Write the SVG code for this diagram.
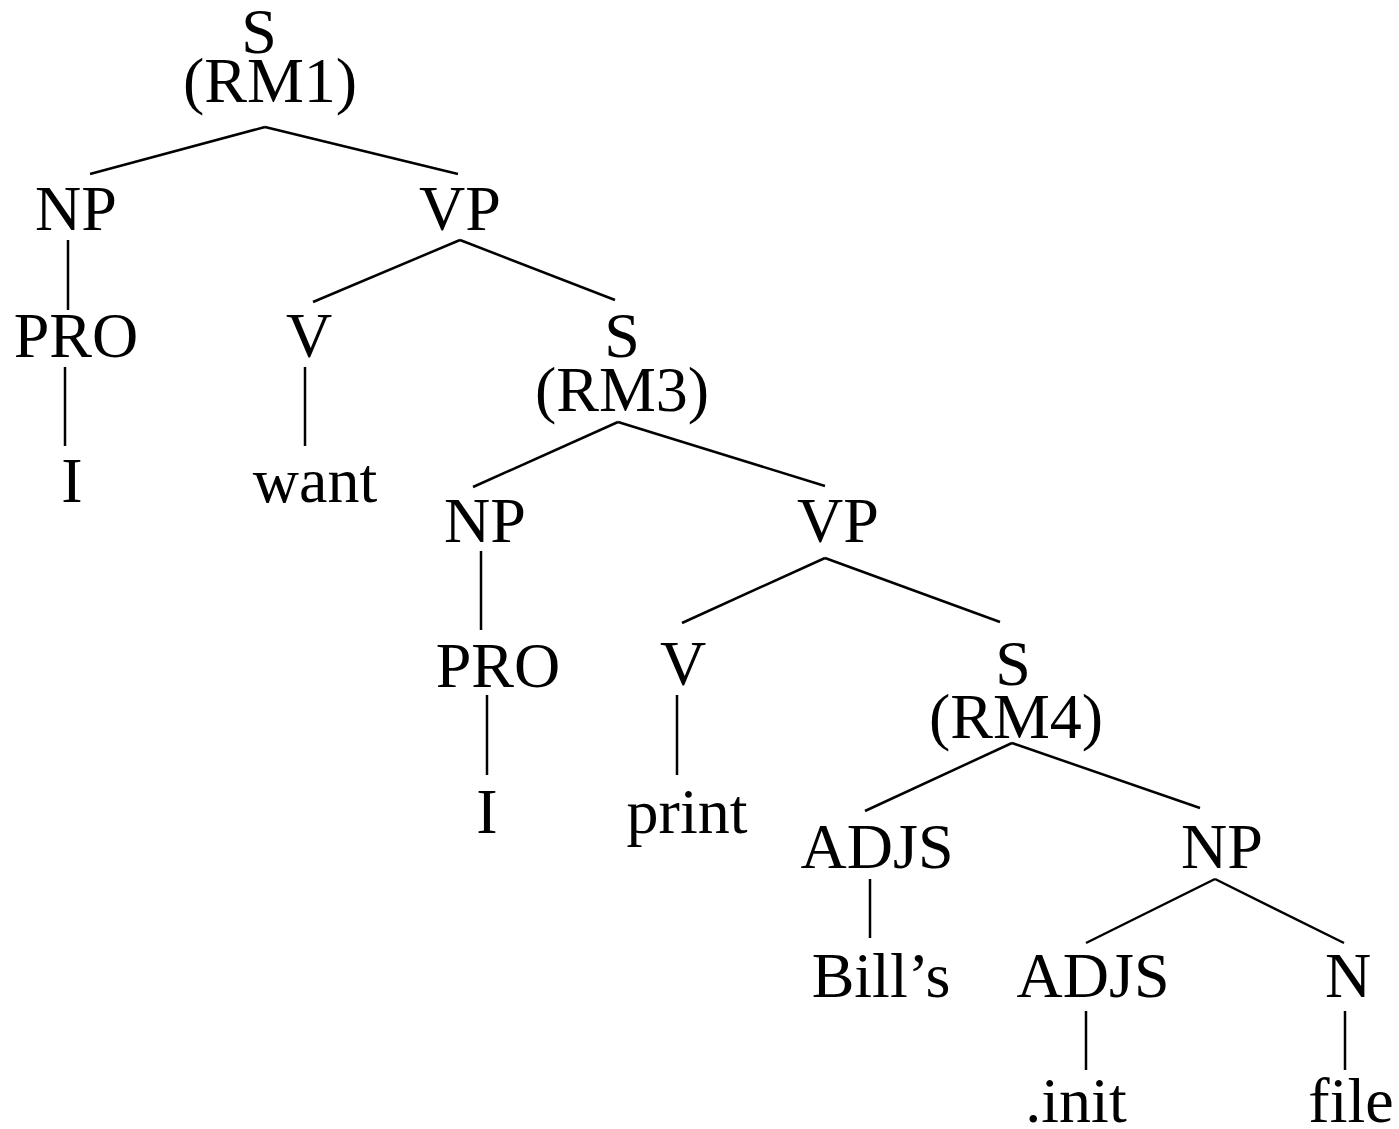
<svg xmlns="http://www.w3.org/2000/svg" width="1399" height="1129" viewBox="0 0 1399 1129">
<style>
text{font-family:"Liberation Serif","Times New Roman",serif;font-size:64px;fill:#000;text-anchor:middle}
line{stroke:#000;stroke-width:2.5;stroke-linecap:butt}
</style>
<rect width="1399" height="1129" fill="#fff"/>
<g id="connectors">
<line x1="265" y1="127" x2="90" y2="174"/>
<line x1="265" y1="127" x2="458" y2="174"/>
<line x1="68" y1="240" x2="68" y2="310"/>
<line x1="65" y1="367" x2="65" y2="446"/>
<line x1="460" y1="240" x2="313" y2="302"/>
<line x1="460" y1="240" x2="615" y2="300"/>
<line x1="305" y1="367" x2="305" y2="446"/>
<line x1="618" y1="422" x2="473" y2="487"/>
<line x1="618" y1="422" x2="825" y2="486"/>
<line x1="481" y1="551" x2="481" y2="630"/>
<line x1="825" y1="558" x2="682" y2="623"/>
<line x1="825" y1="558" x2="1000" y2="622"/>
<line x1="487" y1="695" x2="487" y2="775"/>
<line x1="677" y1="695" x2="677" y2="775"/>
<line x1="1012" y1="743" x2="865" y2="811"/>
<line x1="1012" y1="743" x2="1200" y2="808"/>
<line x1="870" y1="879" x2="870" y2="938"/>
<line x1="1215" y1="879" x2="1086" y2="943"/>
<line x1="1215" y1="879" x2="1344" y2="943"/>
<line x1="1086" y1="1011" x2="1086" y2="1070"/>
<line x1="1345" y1="1011" x2="1345" y2="1070"/>
</g>
<g id="s1"><text x="259" y="53">S</text><text x="270" y="102">(RM1)</text></g>
<g id="np1"><text x="76" y="230">NP</text></g>
<g id="vp1"><text x="460" y="230">VP</text></g>
<g id="pro1"><text x="76" y="357">PRO</text></g>
<g id="v1"><text x="309" y="357">V</text></g>
<g id="s2"><text x="622" y="357">S</text><text x="622" y="411">(RM3)</text></g>
<g id="i1"><text x="72" y="502">I</text></g>
<g id="want"><text x="315" y="502">want</text></g>
<g id="np2"><text x="485" y="542">NP</text></g>
<g id="vp2"><text x="838" y="542">VP</text></g>
<g id="pro2"><text x="498" y="687">PRO</text></g>
<g id="v2"><text x="683" y="685">V</text></g>
<g id="s3"><text x="1013" y="685">S</text><text x="1016" y="738">(RM4)</text></g>
<g id="i2"><text x="487" y="833">I</text></g>
<g id="print"><text x="687" y="833">print</text></g>
<g id="adjs1"><text x="877" y="868">ADJS</text></g>
<g id="np3"><text x="1222" y="868">NP</text></g>
<g id="bills"><text x="881" y="997">Bill’s</text></g>
<g id="adjs2"><text x="1093" y="997">ADJS</text></g>
<g id="n"><text x="1348" y="997">N</text></g>
<g id="init"><text x="1076" y="1122">.init</text></g>
<g id="file"><text x="1351" y="1122">file</text></g>
</svg>
